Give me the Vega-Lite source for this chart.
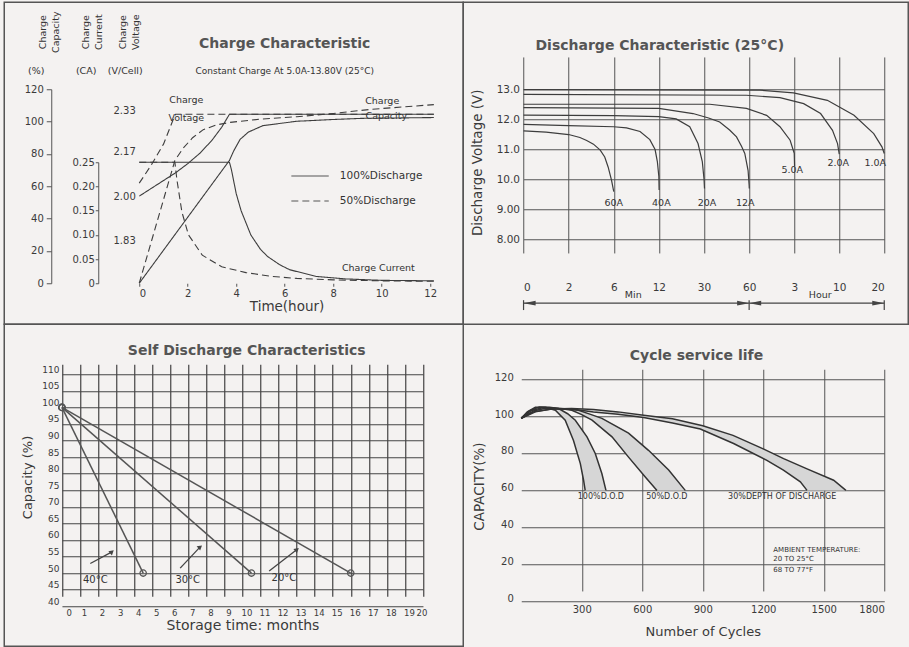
{
"$schema": "https://vega.github.io/schema/vega-lite/v6.json",
"padding": {"left": 3.25, "top": 1.25, "right": 0, "bottom": 0},
"background": "#f4f2f1",
"columns": 2,
"spacing": 0,
"bounds": "flush",
"datasets": {
 "charge": [
  {"q":"voltage","dod":"100%Discharge","t":0,"val":2.0},{"q":"voltage","dod":"100%Discharge","t":0.5,"val":2.03},{"q":"voltage","dod":"100%Discharge","t":1,"val":2.06},{"q":"voltage","dod":"100%Discharge","t":1.5,"val":2.09},{"q":"voltage","dod":"100%Discharge","t":2,"val":2.125},{"q":"voltage","dod":"100%Discharge","t":2.5,"val":2.165},{"q":"voltage","dod":"100%Discharge","t":3,"val":2.215},{"q":"voltage","dod":"100%Discharge","t":3.4,"val":2.265},{"q":"voltage","dod":"100%Discharge","t":3.72,"val":2.315},{"q":"voltage","dod":"100%Discharge","t":12.15,"val":2.315},
  {"q":"voltage","dod":"50%Discharge","t":0,"val":2.05},{"q":"voltage","dod":"50%Discharge","t":0.5,"val":2.12},{"q":"voltage","dod":"50%Discharge","t":1,"val":2.2},{"q":"voltage","dod":"50%Discharge","t":1.38,"val":2.29},{"q":"voltage","dod":"50%Discharge","t":1.5,"val":2.315},{"q":"voltage","dod":"50%Discharge","t":12.15,"val":2.315},
  {"q":"current","dod":"100%Discharge","t":0,"val":0.25},{"q":"current","dod":"100%Discharge","t":3.72,"val":0.25},{"q":"current","dod":"100%Discharge","t":3.8,"val":0.235},{"q":"current","dod":"100%Discharge","t":3.9,"val":0.21},{"q":"current","dod":"100%Discharge","t":4.0,"val":0.185},{"q":"current","dod":"100%Discharge","t":4.2,"val":0.15},{"q":"current","dod":"100%Discharge","t":4.6,"val":0.1},{"q":"current","dod":"100%Discharge","t":5.0,"val":0.07},{"q":"current","dod":"100%Discharge","t":5.3,"val":0.055},{"q":"current","dod":"100%Discharge","t":5.8,"val":0.038},{"q":"current","dod":"100%Discharge","t":6.2,"val":0.028},{"q":"current","dod":"100%Discharge","t":7.3,"val":0.014},{"q":"current","dod":"100%Discharge","t":8.5,"val":0.009},{"q":"current","dod":"100%Discharge","t":10,"val":0.006},{"q":"current","dod":"100%Discharge","t":12.15,"val":0.005},
  {"q":"current","dod":"50%Discharge","t":0,"val":0.25},{"q":"current","dod":"50%Discharge","t":1.47,"val":0.25},{"q":"current","dod":"50%Discharge","t":1.55,"val":0.215},{"q":"current","dod":"50%Discharge","t":1.76,"val":0.147},{"q":"current","dod":"50%Discharge","t":2.03,"val":0.1},{"q":"current","dod":"50%Discharge","t":2.6,"val":0.058},{"q":"current","dod":"50%Discharge","t":3.4,"val":0.034},{"q":"current","dod":"50%Discharge","t":4.4,"val":0.022},{"q":"current","dod":"50%Discharge","t":5.5,"val":0.014},{"q":"current","dod":"50%Discharge","t":6.5,"val":0.01},{"q":"current","dod":"50%Discharge","t":8,"val":0.007},{"q":"current","dod":"50%Discharge","t":10,"val":0.005},{"q":"current","dod":"50%Discharge","t":12.15,"val":0.004},
  {"q":"capacity","dod":"100%Discharge","t":0,"val":0},{"q":"capacity","dod":"100%Discharge","t":3.72,"val":76},{"q":"capacity","dod":"100%Discharge","t":3.9,"val":82},{"q":"capacity","dod":"100%Discharge","t":4.16,"val":89},{"q":"capacity","dod":"100%Discharge","t":4.5,"val":93.5},{"q":"capacity","dod":"100%Discharge","t":5.1,"val":97.5},{"q":"capacity","dod":"100%Discharge","t":6.5,"val":100.2},{"q":"capacity","dod":"100%Discharge","t":8,"val":101.3},{"q":"capacity","dod":"100%Discharge","t":9.2,"val":102},{"q":"capacity","dod":"100%Discharge","t":12.15,"val":102.5},
  {"q":"capacity","dod":"50%Discharge","t":0,"val":0},{"q":"capacity","dod":"50%Discharge","t":1.47,"val":76},{"q":"capacity","dod":"50%Discharge","t":1.81,"val":83.5},{"q":"capacity","dod":"50%Discharge","t":2.2,"val":90},{"q":"capacity","dod":"50%Discharge","t":2.64,"val":95},{"q":"capacity","dod":"50%Discharge","t":3.2,"val":98},{"q":"capacity","dod":"50%Discharge","t":3.75,"val":99.5},{"q":"capacity","dod":"50%Discharge","t":5,"val":101.5},{"q":"capacity","dod":"50%Discharge","t":6.5,"val":103},{"q":"capacity","dod":"50%Discharge","t":8,"val":105},{"q":"capacity","dod":"50%Discharge","t":9.5,"val":107.5},{"q":"capacity","dod":"50%Discharge","t":12.15,"val":110.5}
 ],
 "chargeNotes": [
  {"txt":"Charge","t":1.94,"val":2.368},{"txt":"Voltage","t":1.94,"val":2.299},{"txt":"Charge","t":10.02,"val":2.365},{"txt":"Capacity","t":10.19,"val":2.307},{"txt":"Charge Current","t":9.86,"val":1.722}
 ],
 "chargeAxisNames": [
  {"txt":"Charge\nCapacity","t":-3.96,"val":155.3},{"txt":"Charge\nCurrent","t":-2.19,"val":155.3},{"txt":"Charge\nVoltage","t":-0.66,"val":155.3}
 ],
 "chargeAxisUnits": [
  {"txt":"(%)","t":-4.25,"val":131.1},{"txt":"(CA)","t":-2.19,"val":131.1},{"txt":"(V/Cell)","t":-0.58,"val":131.1}
 ],
 "discharge": [
  {"cur":"60A","t":0,"v":11.62},{"cur":"60A","t":1,"v":11.58},{"cur":"60A","t":2,"v":11.5},{"cur":"60A","t":3,"v":11.4},{"cur":"60A","t":3.6,"v":11.3},{"cur":"60A","t":4.2,"v":11.18},{"cur":"60A","t":4.8,"v":10.98},{"cur":"60A","t":5.2,"v":10.75},{"cur":"60A","t":5.5,"v":10.42},{"cur":"60A","t":5.8,"v":9.98},{"cur":"60A","t":6,"v":9.6},
  {"cur":"40A","t":0,"v":11.84},{"cur":"40A","t":2,"v":11.8},{"cur":"40A","t":6,"v":11.76},{"cur":"40A","t":7.7,"v":11.72},{"cur":"40A","t":9.5,"v":11.6},{"cur":"40A","t":10.8,"v":11.33},{"cur":"40A","t":11.5,"v":11.0},{"cur":"40A","t":11.8,"v":10.6},{"cur":"40A","t":12,"v":10.1},{"cur":"40A","t":12.1,"v":9.65},
  {"cur":"20A","t":0,"v":12.15},{"cur":"20A","t":6,"v":12.13},{"cur":"20A","t":12,"v":12.1},{"cur":"20A","t":18.9,"v":12.02},{"cur":"20A","t":24.3,"v":11.76},{"cur":"20A","t":27.6,"v":11.2},{"cur":"20A","t":29.3,"v":10.6},{"cur":"20A","t":30,"v":10.0},{"cur":"20A","t":30.3,"v":9.7},
  {"cur":"12A","t":0,"v":12.4},{"cur":"12A","t":12,"v":12.37},{"cur":"12A","t":25.6,"v":12.2},{"cur":"12A","t":33,"v":12.05},{"cur":"12A","t":40.4,"v":11.92},{"cur":"12A","t":47,"v":11.65},{"cur":"12A","t":51.6,"v":11.42},{"cur":"12A","t":55,"v":11.1},{"cur":"12A","t":57.1,"v":10.87},{"cur":"12A","t":59.3,"v":10.3},{"cur":"12A","t":60,"v":9.8},{"cur":"12A","t":60.3,"v":9.7},
  {"cur":"5.0A","t":0,"v":12.51},{"cur":"5.0A","t":33.8,"v":12.51},{"cur":"5.0A","t":58.2,"v":12.37},{"cur":"5.0A","t":106.5,"v":12.14},{"cur":"5.0A","t":142,"v":11.76},{"cur":"5.0A","t":169,"v":11.31},{"cur":"5.0A","t":180,"v":10.87},{"cur":"5.0A","t":183,"v":10.45},
  {"cur":"2.0A","t":0,"v":12.84},{"cur":"2.0A","t":58.2,"v":12.81},{"cur":"2.0A","t":142,"v":12.73},{"cur":"2.0A","t":268,"v":12.53},{"cur":"2.0A","t":426,"v":12.2},{"cur":"2.0A","t":537,"v":11.64},{"cur":"2.0A","t":584,"v":11.2},{"cur":"2.0A","t":600,"v":10.85},
  {"cur":"1.0A","t":0,"v":13.0},{"cur":"1.0A","t":88.6,"v":12.98},{"cur":"1.0A","t":178,"v":12.89},{"cur":"1.0A","t":489,"v":12.64},{"cur":"1.0A","t":797,"v":12.14},{"cur":"1.0A","t":1060,"v":11.53},{"cur":"1.0A","t":1169,"v":11.09},{"cur":"1.0A","t":1200,"v":10.87}
 ],
 "dischargeLabels": [
  {"cur":"60A","t":6,"v":9.21},{"cur":"40A","t":13,"v":9.21},{"cur":"20A","t":32,"v":9.21},{"cur":"12A","t":57.4,"v":9.21},{"cur":"5.0A","t":174.7,"v":10.31},{"cur":"2.0A","t":590,"v":10.54},{"cur":"1.0A","t":1080,"v":10.54}
 ],
 "timeBracket": [
  {"t":0,"t2":60,"v":5.88,"v2":5.88},{"t":60,"t2":1200,"v":5.88,"v2":5.88},{"t":0,"t2":0,"v":5.65,"v2":5.98},{"t":60,"t2":60,"v":5.65,"v2":5.98},{"t":1200,"t2":1200,"v":5.65,"v2":5.98}
 ],
 "bracketHeads": [
  {"dir":"left","t":0.27,"v":5.88},{"dir":"left","t":76,"v":5.88},{"dir":"right","t":56,"v":5.88},{"dir":"right","t":1120,"v":5.88}
 ],
 "timeUnits": [
  {"unit":"Min","t":8.6,"v":6.14},{"unit":"Hour","t":423,"v":6.14}
 ],
 "selfdis": [
  {"temp":"40°C","m":0,"c":100},{"temp":"40°C","m":4.5,"c":50},{"temp":"30°C","m":0,"c":100},{"temp":"30°C","m":10.5,"c":50},{"temp":"20°C","m":0,"c":100},{"temp":"20°C","m":16,"c":50}
 ],
 "selfArrows": [
  {"temp":"40°C","m":1.57,"c":52.9,"m2":2.77,"c2":56.4},{"temp":"30°C","m":6.55,"c":51.5,"m2":7.66,"c2":57.9},{"temp":"20°C","m":11.48,"c":50.65,"m2":13.02,"c2":57.1}
 ],
 "selfArrowHeads": [
  {"temp":"40°C","m":2.77,"c":56.4},{"temp":"30°C","m":7.66,"c":57.9},{"temp":"20°C","m":13.02,"c":57.1}
 ],
 "selfLabels": [
  {"temp":"40°C","m":1.85,"c":47.8},{"temp":"30°C","m":6.97,"c":47.8},{"temp":"20°C","m":12.3,"c":48.4}
 ],
 "cycle": [
  {"curve":"100a","n":0,"p":99},{"curve":"100a","n":30,"p":102.5},{"curve":"100a","n":70,"p":105},{"curve":"100a","n":120,"p":105},{"curve":"100a","n":169,"p":103.4},{"curve":"100a","n":218,"p":98},{"curve":"100a","n":259,"p":87},{"curve":"100a","n":293,"p":74.5},{"curve":"100a","n":309,"p":65.5},{"curve":"100a","n":317,"p":60},
  {"curve":"100b","n":0,"p":99},{"curve":"100b","n":40,"p":103},{"curve":"100b","n":90,"p":105.2},{"curve":"100b","n":140,"p":105},{"curve":"100b","n":185,"p":104.3},{"curve":"100b","n":230,"p":101.5},{"curve":"100b","n":268,"p":98},{"curve":"100b","n":326,"p":89},{"curve":"100b","n":367,"p":80},{"curve":"100b","n":400,"p":69},{"curve":"100b","n":420,"p":60},
  {"curve":"50a","n":0,"p":99},{"curve":"50a","n":50,"p":103.3},{"curve":"50a","n":100,"p":104.6},{"curve":"50a","n":160,"p":104.6},{"curve":"50a","n":210,"p":104},{"curve":"50a","n":251,"p":103.4},{"curve":"50a","n":300,"p":101},{"curve":"50a","n":351,"p":98},{"curve":"50a","n":450,"p":89},{"curve":"50a","n":532,"p":78},{"curve":"50a","n":615,"p":67.3},{"curve":"50a","n":673,"p":60},
  {"curve":"50b","n":0,"p":99},{"curve":"50b","n":60,"p":103},{"curve":"50b","n":120,"p":104.5},{"curve":"50b","n":200,"p":104.3},{"curve":"50b","n":284,"p":103.4},{"curve":"50b","n":340,"p":101.3},{"curve":"50b","n":400,"p":99},{"curve":"50b","n":532,"p":91},{"curve":"50b","n":631,"p":81.7},{"curve":"50b","n":731,"p":71},{"curve":"50b","n":813,"p":60},
  {"curve":"30a","n":0,"p":99},{"curve":"30a","n":60,"p":102.5},{"curve":"30a","n":150,"p":104},{"curve":"30a","n":250,"p":104},{"curve":"30a","n":358,"p":102.5},{"curve":"30a","n":480,"p":101.2},{"curve":"30a","n":607,"p":99.4},{"curve":"30a","n":750,"p":96.5},{"curve":"30a","n":888,"p":93.2},{"curve":"30a","n":1053,"p":85.4},{"curve":"30a","n":1218,"p":76.3},{"curve":"30a","n":1300,"p":71},{"curve":"30a","n":1384,"p":64.6},{"curve":"30a","n":1417,"p":60},
  {"curve":"30b","n":0,"p":99},{"curve":"30b","n":70,"p":102.5},{"curve":"30b","n":150,"p":104},{"curve":"30b","n":250,"p":104.3},{"curve":"30b","n":358,"p":103.8},{"curve":"30b","n":480,"p":102.5},{"curve":"30b","n":607,"p":100.7},{"curve":"30b","n":750,"p":98.8},{"curve":"30b","n":900,"p":95},{"curve":"30b","n":1050,"p":89.8},{"curve":"30b","n":1200,"p":82.5},{"curve":"30b","n":1301,"p":77.2},{"curve":"30b","n":1420,"p":71.5},{"curve":"30b","n":1549,"p":65.5},{"curve":"30b","n":1610,"p":60}
 ],
 "cycleBand": [
  {"dod":"100","n":150,"p":104.5,"p2":104.9},{"dod":"100","n":169,"p":103.4,"p2":104.6},{"dod":"100","n":185,"p":101.6,"p2":104.3},{"dod":"100","n":218,"p":98,"p2":102.2},{"dod":"100","n":240,"p":92.1,"p2":100.6},{"dod":"100","n":259,"p":87,"p2":98.8},{"dod":"100","n":280,"p":79.3,"p2":96.1},{"dod":"100","n":293,"p":74.5,"p2":94.1},{"dod":"100","n":309,"p":65.5,"p2":91.6},{"dod":"100","n":317,"p":60,"p2":90.4},{"dod":"100","n":345,"p":60,"p2":84.8},{"dod":"100","n":367,"p":60,"p2":80},{"dod":"100","n":385,"p":60,"p2":74},{"dod":"100","n":400,"p":60,"p2":69},{"dod":"100","n":420,"p":60,"p2":60},
  {"dod":"50","n":230,"p":103.7,"p2":104.1},{"dod":"50","n":251,"p":103.4,"p2":103.9},{"dod":"50","n":284,"p":101.8,"p2":103.4},{"dod":"50","n":300,"p":101,"p2":102.8},{"dod":"50","n":351,"p":98,"p2":101},{"dod":"50","n":400,"p":93.9,"p2":99},{"dod":"50","n":450,"p":89,"p2":96.3},{"dod":"50","n":500,"p":82.3,"p2":93.4},{"dod":"50","n":532,"p":78,"p2":91},{"dod":"50","n":580,"p":71.8,"p2":86.5},{"dod":"50","n":615,"p":67.3,"p2":83.3},{"dod":"50","n":650,"p":62.8,"p2":79.7},{"dod":"50","n":673,"p":60,"p2":77.2},{"dod":"50","n":731,"p":60,"p2":71},{"dod":"50","n":770,"p":60,"p2":65.7},{"dod":"50","n":813,"p":60,"p2":60},
  {"dod":"30","n":300,"p":103.3,"p2":104.1},{"dod":"30","n":358,"p":102.5,"p2":103.8},{"dod":"30","n":480,"p":101.2,"p2":102.5},{"dod":"30","n":607,"p":99.4,"p2":100.7},{"dod":"30","n":750,"p":96.5,"p2":98.8},{"dod":"30","n":888,"p":93.2,"p2":95.3},{"dod":"30","n":1053,"p":85.4,"p2":89.7},{"dod":"30","n":1218,"p":76.3,"p2":81.6},{"dod":"30","n":1300,"p":71,"p2":77.2},{"dod":"30","n":1384,"p":64.6,"p2":73.2},{"dod":"30","n":1417,"p":60,"p2":71.6},{"dod":"30","n":1480,"p":60,"p2":68.7},{"dod":"30","n":1549,"p":60,"p2":65.5},{"dod":"30","n":1610,"p":60,"p2":60}
 ],
 "cycleLabels": [
  {"txt":"100%D.O.D","n":395,"p":56.5},{"txt":"50%D.O.D","n":722,"p":56.5},{"txt":"30%DEPTH OF DISCHARGE","n":1294,"p":56.5}
 ],
 "ambient": [
  {"txt":"AMBIENT TEMPERATURE:","n":1250,"p":28},{"txt":"20 TO 25°C","n":1250,"p":22.6},{"txt":"68 TO 77°F","n":1250,"p":16.8}
 ]
},
"concat": [
 {
  "width": 459, "height": 322,
  "title": {"text": "Charge Characteristic", "subtitle": "Constant Charge At 5.0A-13.80V  (25°C)", "offset": -74, "dx": 51, "subtitlePadding": 16, "subtitleFontSize": 9, "subtitleColor": "#333", "subtitleFont": "DejaVu Sans"},
  "resolve": {"scale": {"y": "independent"}, "axis": {"y": "independent"}},
  "layer": [
   {
    "encoding": {
     "x": {"field": "t", "type": "quantitative", "scale": {"domain": [0, 12.15], "range": [135, 429.6], "nice": false, "zero": false}, "axis": {"values": [0,2,4,6,8,10,12], "title": "Time(hour)", "offset": -41, "tickSize": 3, "labelPadding": 2, "labelFontSize": 10, "titleFontSize": 13.5, "titlePadding": 1, "domain": false}},
     "y": {"field": "val", "type": "quantitative", "scale": {"domain": [1.665, 2.415], "range": [281, 86], "nice": false, "zero": false}, "axis": {"orient": "left", "offset": -135, "values": [1.83, 2.0, 2.17, 2.33], "format": ".2f", "tickSize": 0, "labelPadding": 4, "labelFontSize": 10, "domain": false, "title": null}}
    },
    "layer": [
     {"data": {"values": [{}]}, "mark": {"type": "rect", "fillOpacity": 0, "stroke": "#444", "strokeWidth": 1.2}, "encoding": {"x": {"datum": 0}, "x2": {"datum": 12.15}, "y": {"datum": 1.665}, "y2": {"datum": 2.415}}},
     {"data": {"name": "charge"}, "transform": [{"filter": "datum.q == 'voltage'"}], "mark": {"type": "line", "color": "#3d3d3d", "strokeWidth": 1.1},
      "encoding": {"strokeDash": {"field": "dod", "type": "nominal", "scale": {"domain": ["100%Discharge", "50%Discharge"], "range": [[1, 0], [7, 4]]}, "legend": {"orient": "none", "legendX": 286.3, "legendY": 154.3, "title": null, "symbolType": "stroke", "symbolSize": 1400, "symbolStrokeWidth": 1.1, "symbolStrokeColor": "#555", "labelFontSize": 10.5, "labelColor": "#333", "labelOffset": 10.3, "rowPadding": -9.4}}}},
     {"data": {"name": "chargeNotes"}, "mark": {"type": "text", "fontSize": 9.5, "color": "#333"}, "encoding": {"text": {"field": "txt"}}}
    ]
   },
   {
    "encoding": {
     "x": {"field": "t", "type": "quantitative", "scale": {"domain": [0, 12.15], "range": [135, 429.6], "nice": false, "zero": false}, "axis": {"values": [0,2,4,6,8,10,12], "title": "Time(hour)", "offset": -41, "tickSize": 3, "labelPadding": 2, "labelFontSize": 10, "titleFontSize": 13.5, "titlePadding": 1, "domain": false}},
     "y": {"field": "val", "type": "quantitative", "scale": {"domain": [0, 0.25], "range": [281, 160], "nice": false, "zero": false}, "axis": {"orient": "left", "offset": -94, "values": [0, 0.05, 0.1, 0.15, 0.2, 0.25], "labelExpr": "datum.value == 0 ? '0' : format(datum.value, '.2f')", "tickSize": 3, "labelPadding": 1, "labelFontSize": 10, "title": null}}
    },
    "layer": [
     {"data": {"name": "charge"}, "transform": [{"filter": "datum.q == 'current'"}], "mark": {"type": "line", "color": "#3d3d3d", "strokeWidth": 1.1},
      "encoding": {"strokeDash": {"field": "dod", "type": "nominal", "scale": {"domain": ["100%Discharge", "50%Discharge"], "range": [[1, 0], [7, 4]]}, "legend": {"orient": "none", "legendX": 286.3, "legendY": 154.3, "title": null, "symbolType": "stroke", "symbolSize": 1400, "symbolStrokeWidth": 1.1, "symbolStrokeColor": "#555", "labelFontSize": 10.5, "labelColor": "#333", "labelOffset": 10.3, "rowPadding": -9.4}}}}
    ]
   },
   {
    "encoding": {
     "x": {"field": "t", "type": "quantitative", "scale": {"domain": [0, 12.15], "range": [135, 429.6], "nice": false, "zero": false}, "axis": {"values": [0,2,4,6,8,10,12], "title": "Time(hour)", "offset": -41, "tickSize": 3, "labelPadding": 2, "labelFontSize": 10, "titleFontSize": 13.5, "titlePadding": 1, "domain": false}},
     "y": {"field": "val", "type": "quantitative", "scale": {"domain": [0, 120], "range": [281, 87], "nice": false, "zero": false}, "axis": {"orient": "left", "offset": -47, "values": [0, 20, 40, 60, 80, 100, 120], "tickSize": 5, "labelPadding": 3, "labelFontSize": 10, "title": null}}
    },
    "layer": [
     {"data": {"name": "charge"}, "transform": [{"filter": "datum.q == 'capacity'"}], "mark": {"type": "line", "color": "#3d3d3d", "strokeWidth": 1.1},
      "encoding": {"strokeDash": {"field": "dod", "type": "nominal", "scale": {"domain": ["100%Discharge", "50%Discharge"], "range": [[1, 0], [7, 4]]}, "legend": {"orient": "none", "legendX": 286.3, "legendY": 154.3, "title": null, "symbolType": "stroke", "symbolSize": 1400, "symbolStrokeWidth": 1.1, "symbolStrokeColor": "#555", "labelFontSize": 10.5, "labelColor": "#333", "labelOffset": 10.3, "rowPadding": -9.4}}}},
     {"data": {"name": "chargeAxisNames"}, "mark": {"type": "text", "angle": 270, "lineBreak": "\n", "lineHeight": 13, "fontSize": 9.5, "color": "#333", "align": "center", "baseline": "middle"}, "encoding": {"text": {"field": "txt"}}},
     {"data": {"name": "chargeAxisUnits"}, "mark": {"type": "text", "fontSize": 9.5, "color": "#333", "align": "center", "baseline": "middle"}, "encoding": {"text": {"field": "txt"}}}
    ]
   }
  ]
 },
 {
  "width": 445, "height": 322,
  "title": {"text": "Discharge Characteristic  (25°C)", "offset": -51, "dx": -26},
  "encoding": {
   "x": {"field": "t", "type": "quantitative", "scale": {"domain": [0, 2, 6, 12, 30, 60, 180, 600, 1200], "range": [60.3, 105.4, 150.5, 195.6, 240.8, 285.9, 331, 376, 421], "nice": false, "zero": false}, "axis": {"values": [0, 2, 6, 12, 30, 60, 180, 600, 1200], "labelExpr": "datum.value >= 180 ? format(datum.value / 60, 'd') : format(datum.value, 'd')", "offset": -54.7, "grid": true, "gridColor": "#555", "gridWidth": 1, "tickSize": 0, "labelPadding": 13, "domain": false, "title": null, "labelFontSize": 10.5, "labelOverlap": false}},
   "y": {"field": "v", "type": "quantitative", "scale": {"domain": [7, 13.533], "range": [267.3, 71.3], "nice": false, "zero": false}, "axis": {"values": [8, 9, 10, 11, 12, 13], "labelExpr": "datum.value >= 10 ? format(datum.value, '.1f') : format(datum.value, '.2f')", "offset": -60.3, "grid": true, "gridColor": "#555", "gridWidth": 1, "tickSize": 0, "labelPadding": 4, "domain": false, "labelFontSize": 10.5, "title": "Discharge Voltage (V)", "titleFontSize": 13.5, "titleX": -46.3, "titleY": 160, "titleAngle": 270, "titleAlign": "center", "titleBaseline": "middle"}}
  },
  "layer": [
   {"data": {"values": [{}]}, "mark": {"type": "rect", "fillOpacity": 0, "stroke": "#444", "strokeWidth": 1.2}, "encoding": {"x": {"datum": 0}, "x2": {"datum": 1200}, "y": {"datum": 7}, "y2": {"datum": 13.533}}},
   {"data": {"name": "discharge"}, "mark": {"type": "line", "color": "#3d3d3d", "strokeWidth": 1.2}, "encoding": {"detail": {"field": "cur"}}},
   {"data": {"name": "dischargeLabels"}, "mark": {"type": "text", "fontSize": 9.5, "color": "#333"}, "encoding": {"text": {"field": "cur"}}},
   {"data": {"name": "timeBracket"}, "mark": {"type": "rule", "color": "#444", "strokeWidth": 1.2}, "encoding": {"x2": {"field": "t2"}, "y2": {"field": "v2"}}},
   {"data": {"name": "bracketHeads"}, "transform": [{"filter": "datum.dir == 'left'"}], "mark": {"type": "point", "shape": "M -1 0 L 1 -0.4 L 1 0.4 Z", "filled": true, "size": 144, "color": "#444", "opacity": 1}, "encoding": {}},
   {"data": {"name": "bracketHeads"}, "transform": [{"filter": "datum.dir == 'right'"}], "mark": {"type": "point", "shape": "M 1 0 L -1 -0.4 L -1 0.4 Z", "filled": true, "size": 144, "color": "#444", "opacity": 1}, "encoding": {}},
   {"data": {"name": "timeUnits"}, "mark": {"type": "text", "fontSize": 9.5, "color": "#333"}, "encoding": {"text": {"field": "unit"}}}
  ]
 },
 {
  "width": 459, "height": 322,
  "title": {"text": "Self Discharge Characteristics", "offset": -34, "dx": 13},
  "encoding": {
   "x": {"field": "m", "type": "quantitative", "scale": {"domain": [0, 20], "range": [57.7, 418.7], "nice": false, "zero": false}, "axis": {"values": [0,1,2,3,4,5,6,7,8,9,10,11,12,13,14,15,16,17,18,19,20], "offset": -40, "grid": true, "gridColor": "#444", "gridWidth": 1.2, "tickSize": 0, "labelOffset": 4, "labelPadding": 2, "labelFontSize": 8.5, "labelOverlap": false, "domain": false, "title": "Storage time: months", "titleFontSize": 14, "titlePadding": 2}},
   "y": {"field": "c", "type": "quantitative", "scale": {"domain": [40, 110], "range": [282, 50], "nice": false, "zero": false}, "axis": {"values": [40,45,50,55,60,65,70,75,80,85,90,95,100,105,110], "offset": -57.7, "grid": true, "gridColor": "#444", "gridWidth": 1.2, "tickSize": 0, "labelOffset": -5, "labelPadding": 3, "labelFontSize": 9, "labelOverlap": false, "domain": false, "title": "Capacity (%)", "titleFontSize": 13, "titleX": -34.7, "titleY": 152.7, "titleAngle": 270, "titleAlign": "center", "titleBaseline": "middle"}}
  },
  "layer": [
   {"data": {"values": [{}]}, "mark": {"type": "rect", "fillOpacity": 0, "stroke": "#444", "strokeWidth": 1.3}, "encoding": {"x": {"datum": 0}, "x2": {"datum": 20}, "y": {"datum": 40}, "y2": {"datum": 110}}},
   {"data": {"values": [{}]}, "mark": {"type": "rule", "color": "#333", "strokeWidth": 2.2}, "encoding": {"x": {"datum": 0}, "x2": {"datum": 20}, "y": {"datum": 50}}},
   {"data": {"name": "selfdis"}, "mark": {"type": "line", "color": "#555", "strokeWidth": 1.5}, "encoding": {"detail": {"field": "temp"}}},
   {"data": {"name": "selfdis"}, "mark": {"type": "point", "shape": "circle", "filled": false, "size": 40, "color": "#555", "strokeWidth": 1.3, "opacity": 1}, "encoding": {}},
   {"data": {"name": "selfArrows"}, "mark": {"type": "rule", "color": "#444", "strokeWidth": 1.3}, "encoding": {"x2": {"field": "m2"}, "y2": {"field": "c2"}}},
   {"data": {"name": "selfArrowHeads"}, "mark": {"type": "point", "shape": "triangle-up", "angle": 50, "filled": true, "size": 30, "color": "#444", "opacity": 1}, "encoding": {}},
   {"data": {"name": "selfLabels"}, "mark": {"type": "text", "fontSize": 10, "color": "#333"}, "encoding": {"text": {"field": "temp"}}}
  ]
 },
 {
  "width": 445, "height": 322,
  "view": {"stroke": "transparent"},
  "title": {"text": "Cycle service life", "offset": -39, "dx": 10.7},
  "encoding": {
   "x": {"field": "n", "type": "quantitative", "scale": {"domain": [0, 1800], "range": [58, 421], "nice": false, "zero": false}, "axis": {"values": [300, 600, 900, 1200, 1500, 1800], "format": "d", "offset": -45, "grid": true, "gridColor": "#555", "gridWidth": 1, "tickSize": 0, "labelPadding": 3, "labelFontSize": 10, "labelOverlap": false, "domain": false, "title": "Number of Cycles", "titleFontSize": 13, "titlePadding": 11}},
   "y": {"field": "p", "type": "quantitative", "scale": {"domain": [0, 120], "range": [277, 55.3], "nice": false, "zero": false}, "axis": {"values": [0, 20, 40, 60, 80, 100, 120], "offset": -58, "grid": true, "gridColor": "#555", "gridWidth": 1, "tickSize": 0, "labelOffset": -2.5, "labelPadding": 8, "labelFontSize": 10, "domain": false, "title": "CAPACITY(%)", "titleFontSize": 13.5, "titleX": -42, "titleY": 161.8, "titleAngle": 270, "titleAlign": "center", "titleBaseline": "middle"}}
  },
  "layer": [
   {"data": {"values": [{}]}, "mark": {"type": "rect", "fillOpacity": 0, "stroke": "#444", "strokeWidth": 1.2}, "encoding": {"x": {"datum": 0}, "x2": {"datum": 1800}, "y": {"datum": 0}, "y2": {"datum": 120}}},
   {"data": {"name": "cycleBand"}, "mark": {"type": "area", "color": "#d6d6d6", "opacity": 1}, "encoding": {"y2": {"field": "p2"}, "detail": {"field": "dod"}}},
   {"data": {"name": "cycle"}, "mark": {"type": "line", "color": "#333", "strokeWidth": 1.5}, "encoding": {"detail": {"field": "curve"}}},
   {"data": {"name": "cycleLabels"}, "mark": {"type": "text", "fontSize": 8, "color": "#333"}, "encoding": {"text": {"field": "txt"}}},
   {"data": {"name": "ambient"}, "mark": {"type": "text", "fontSize": 7, "color": "#333", "align": "left"}, "encoding": {"text": {"field": "txt"}}}
  ]
 }
],
"config": {
 "font": "DejaVu Sans",
 "view": {"stroke": "#555", "strokeWidth": 1.5},
 "axis": {"labelFont": "DejaVu Sans", "titleFont": "DejaVu Sans", "labelColor": "#3a3a3a", "titleColor": "#3a3a3a", "titleFontWeight": "normal", "domainColor": "#555", "tickColor": "#555", "grid": false},
 "title": {"font": "DejaVu Sans", "fontWeight": "bold", "fontSize": 14, "color": "#555", "anchor": "middle", "frame": "group"},
 "legend": {"padding": 0, "labelFont": "DejaVu Sans"},
 "text": {"font": "DejaVu Sans"}
}
}
